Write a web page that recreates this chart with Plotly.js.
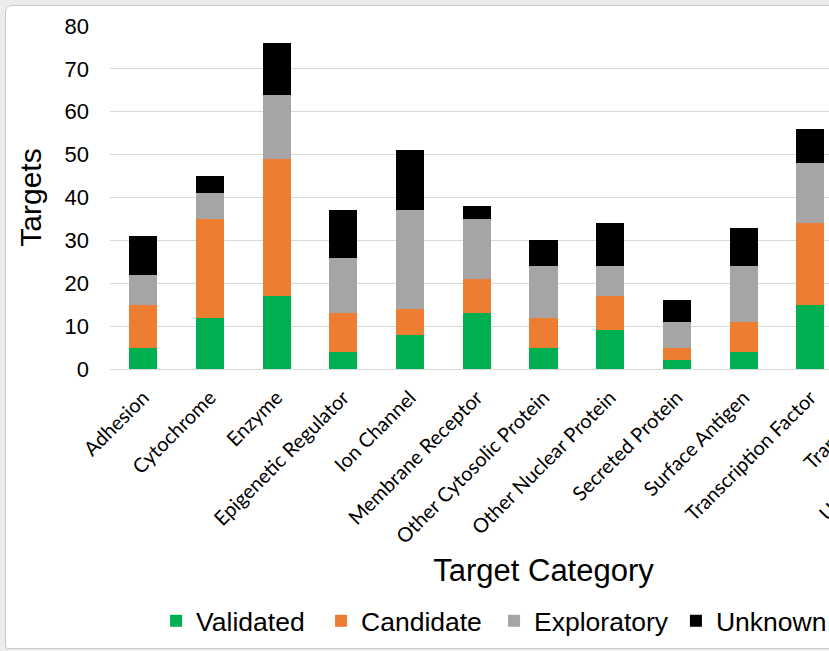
<!DOCTYPE html>
<html>
<head>
<meta charset="utf-8">
<script src="https://cdn.plot.ly/plotly-3.0.1.min.js"></script>
<style>
  html, body { margin: 0; padding: 0; background: #ececec; overflow: hidden; width: 829px; height: 651px; }
  #frame { position: absolute; left: 5px; top: 5px; width: 1080px; height: 642px; background: #ffffff;
           border: 1px solid #c9c9c9; border-top-left-radius: 7px; border-bottom-left-radius: 3px; overflow: hidden; }
  #chart { position: absolute; left: 0; top: 0; width: 1080px; height: 640px; }
</style>
</head>
<body>
<div id="frame"><div id="chart"></div></div>
<script>
const categories = ["Adhesion", "Cytochrome", "Enzyme", "Epigenetic Regulator", "Ion Channel",
  "Membrane Receptor", "Other Cytosolic Protein", "Other Nuclear Protein", "Secreted Protein",
  "Surface Antigen", "Transcription Factor", "Transporter", "Unclassified Protein"];
const validated   = [5, 12, 17, 4, 8, 13, 5, 9, 2, 4, 15, 6, 3];
const candidate   = [10, 23, 32, 9, 6, 8, 7, 8, 3, 7, 19, 10, 4];
const exploratory = [7, 6, 15, 13, 23, 14, 12, 7, 6, 13, 14, 12, 8];
const unknown     = [9, 4, 12, 11, 14, 3, 6, 10, 5, 9, 8, 6, 10];
const yTicks = [0, 10, 20, 30, 40, 50, 60, 70, 80];

const series = [
  {name: "Validated", y: validated, color: "#00b050"},
  {name: "Candidate", y: candidate, color: "#ed7d31"},
  {name: "Exploratory", y: exploratory, color: "#a5a5a5"},
  {name: "Unknown", y: unknown, color: "#000000"}
];

const legendIds = ["legend", "legend2", "legend3", "legend4"];
const legendX = [0.139, 0.2917, 0.4519, 0.6203];

const traces = series.map((s, i) => ({
  type: "bar", name: s.name, x: categories, y: s.y,
  marker: {color: s.color, line: {width: 0}},
  legend: legendIds[i],
  hoverinfo: "x+y+name"
}));

const layout = {
  width: 1080, height: 640,
  margin: {l: 104, r: 109, t: 20, b: 277},
  paper_bgcolor: "rgba(0,0,0,0)", plot_bgcolor: "rgba(0,0,0,0)",
  barmode: "stack", bargap: 0.58,
  font: {family: "Liberation Sans, Arial, sans-serif", color: "#000000"},
  xaxis: {
    type: "category", tickangle: -45,
    tickfont: {family: "Lato, Carlito, sans-serif", size: 20, color: "#000000"},
    showgrid: false, zeroline: false, showline: false, ticks: "",
    ticklabelstandoff: 12,
    title: {text: "Target Category", font: {family: "Liberation Sans, Arial, sans-serif", size: 31}, standoff: 12}
  },
  yaxis: {
    range: [0, 80], tickvals: yTicks,
    tickfont: {family: "Liberation Sans, Arial, sans-serif", size: 22, color: "#000000"},
    gridcolor: "#d9d9d9", gridwidth: 1, zeroline: true, zerolinecolor: "#d9d9d9", zerolinewidth: 1,
    showline: false, ticks: "", ticklabelstandoff: 20,
    title: {text: "Targets", font: {family: "Liberation Sans, Arial, sans-serif", size: 30}, standoff: 14}
  },
  showlegend: true
};

legendIds.forEach((id, i) => {
  layout[id] = {
    orientation: "h", xref: "container", yref: "container",
    x: legendX[i], xanchor: "left", y: 0.039, yanchor: "middle",
    font: {family: "Liberation Sans, Arial, sans-serif", size: 26.5, color: "#000000"},
    bgcolor: "rgba(0,0,0,0)", itemwidth: 30
  };
});

Plotly.newPlot("chart", traces, layout, {displayModeBar: false, staticPlot: true});
</script>
</body>
</html>
